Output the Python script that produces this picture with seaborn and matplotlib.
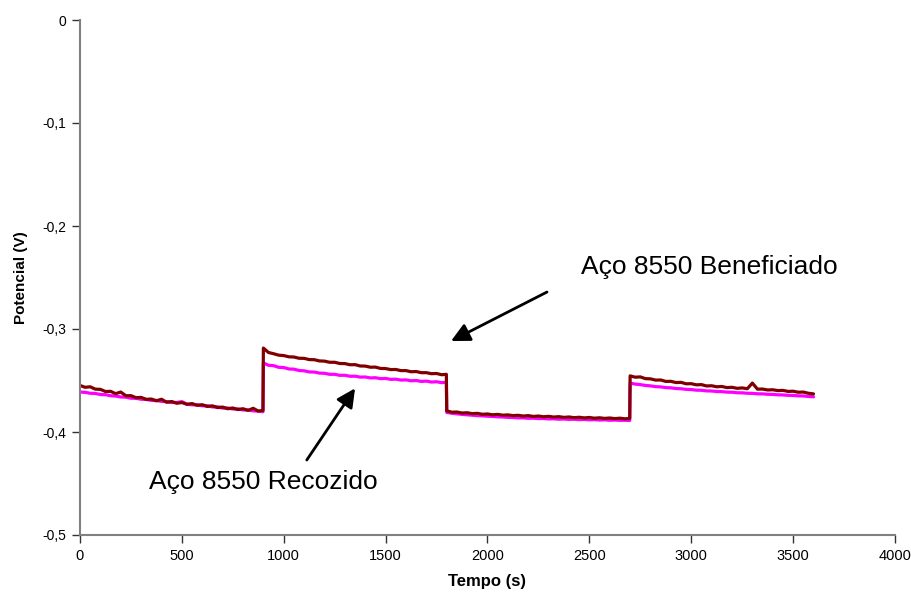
import numpy as np
import pandas as pd
import matplotlib
matplotlib.use("Agg")
import matplotlib.pyplot as plt
import seaborn as sns

# ---- data ----
t_seg1 = list(range(0, 900, 25)) + [898]
t_seg2 = list(range(900, 1800, 25)) + [1798]
t_seg3 = list(range(1800, 2700, 25)) + [2698]
t_seg4 = list(range(2700, 3601, 25))

ben_seg1 = [-0.3548, -0.3566, -0.3561, -0.3584, -0.3586, -0.3607, -0.3605, -0.3628, -0.3612,
            -0.3648, -0.3647, -0.3667, -0.3664, -0.3683, -0.3680, -0.3697, -0.3682, -0.3711,
            -0.3704, -0.3721, -0.3714, -0.3731, -0.3724, -0.3741, -0.3735, -0.3752, -0.3746,
            -0.3763, -0.3758, -0.3774, -0.3767, -0.3782, -0.3774, -0.3790, -0.3770, -0.3797,
            -0.3790]
ben_seg2 = [-0.3185, -0.3228, -0.3240, -0.3254, -0.3258, -0.3270, -0.3272, -0.3284, -0.3285,
            -0.3297, -0.3298, -0.3310, -0.3312, -0.3323, -0.3323, -0.3335, -0.3336, -0.3347,
            -0.3346, -0.3359, -0.3360, -0.3371, -0.3370, -0.3383, -0.3384, -0.3394, -0.3393,
            -0.3404, -0.3404, -0.3415, -0.3413, -0.3424, -0.3424, -0.3434, -0.3432, -0.3444,
            -0.3440]
ben_seg3 = [-0.3795, -0.3808, -0.3806, -0.3816, -0.3813, -0.3822, -0.3819, -0.3828, -0.3825,
            -0.3833, -0.3829, -0.3837, -0.3834, -0.3841, -0.3838, -0.3845, -0.3841, -0.3849,
            -0.3845, -0.3852, -0.3848, -0.3855, -0.3851, -0.3858, -0.3854, -0.3861, -0.3857,
            -0.3863, -0.3859, -0.3866, -0.3862, -0.3868, -0.3864, -0.3870, -0.3866, -0.3872,
            -0.3868]
ben_seg4 = [-0.3455, -0.3468, -0.3465, -0.3482, -0.3484, -0.3496, -0.3495, -0.3509, -0.3508,
            -0.3520, -0.3518, -0.3532, -0.3531, -0.3542, -0.3540, -0.3553, -0.3551, -0.3561,
            -0.3558, -0.3569, -0.3566, -0.3576, -0.3572, -0.3580, -0.3525, -0.3584, -0.3583,
            -0.3592, -0.3590, -0.3598, -0.3596, -0.3606, -0.3604, -0.3614, -0.3612, -0.3624,
            -0.3630]

rec_seg1 = [-0.3612, -0.3615, -0.3624, -0.3626, -0.3636, -0.3638, -0.3648, -0.3651, -0.3660,
            -0.3662, -0.3672, -0.3673, -0.3682, -0.3684, -0.3693, -0.3694, -0.3703, -0.3705,
            -0.3714, -0.3713, -0.3705, -0.3730, -0.3736, -0.3736, -0.3746, -0.3745, -0.3757,
            -0.3756, -0.3768, -0.3767, -0.3777, -0.3776, -0.3786, -0.3787, -0.3795, -0.3797,
            -0.3803]
rec_seg2 = [-0.3330, -0.3352, -0.3356, -0.3372, -0.3374, -0.3388, -0.3390, -0.3403, -0.3406,
            -0.3417, -0.3418, -0.3428, -0.3430, -0.3440, -0.3440, -0.3450, -0.3449, -0.3459,
            -0.3458, -0.3467, -0.3466, -0.3475, -0.3473, -0.3482, -0.3480, -0.3489, -0.3487,
            -0.3496, -0.3494, -0.3503, -0.3500, -0.3509, -0.3506, -0.3515, -0.3512, -0.3521,
            -0.3517]
rec_seg3 = [-0.3810, -0.3818, -0.3824, -0.3829, -0.3833, -0.3837, -0.3841, -0.3843, -0.3847,
            -0.3849, -0.3853, -0.3854, -0.3858, -0.3859, -0.3863, -0.3863, -0.3867, -0.3866,
            -0.3870, -0.3869, -0.3873, -0.3872, -0.3876, -0.3874, -0.3878, -0.3876, -0.3880,
            -0.3878, -0.3882, -0.3880, -0.3884, -0.3882, -0.3886, -0.3884, -0.3887, -0.3886,
            -0.3888]
rec_seg4 = [-0.3525, -0.3535, -0.3540, -0.3548, -0.3552, -0.3560, -0.3562, -0.3569, -0.3571,
            -0.3578, -0.3580, -0.3586, -0.3588, -0.3594, -0.3595, -0.3601, -0.3602, -0.3607,
            -0.3608, -0.3613, -0.3614, -0.3619, -0.3620, -0.3624, -0.3625, -0.3629, -0.3630,
            -0.3634, -0.3635, -0.3639, -0.3640, -0.3644, -0.3645, -0.3649, -0.3650, -0.3655,
            -0.3658]

x_ticks = [0, 500, 1000, 1500, 2000, 2500, 3000, 3500, 4000]
y_ticks = [0, -0.1, -0.2, -0.3, -0.4, -0.5]
y_tick_labels = ["0", "-0,1", "-0,2", "-0,3", "-0,4", "-0,5"]
label_ben = "Aço 8550 Beneficiado"
label_rec = "Aço 8550 Recozido"

time = t_seg1 + t_seg2 + t_seg3 + t_seg4
ben = ben_seg1 + ben_seg2 + ben_seg3 + ben_seg4
rec = rec_seg1 + rec_seg2 + rec_seg3 + rec_seg4

df = pd.DataFrame({"Tempo": time * 2,
                   "Potencial": rec + ben,
                   "Amostra": [label_rec] * len(time) + [label_ben] * len(time)})

sns.set_style("white")
plt.rcParams["font.family"] = ["Liberation Sans", "DejaVu Sans"]
plt.rcParams["text.color"] = "black"
plt.rcParams["axes.labelcolor"] = "black"
plt.rcParams["xtick.color"] = "black"
plt.rcParams["ytick.color"] = "black"

fig = plt.figure(figsize=(9.12, 5.92), dpi=100)
ax = fig.add_axes([80 / 912, 1 - 535 / 592, 815 / 912, 515 / 592])

sns.lineplot(data=df, x="Tempo", y="Potencial", hue="Amostra",
             palette={label_rec: "#FF00FF", label_ben: "#800000"},
             hue_order=[label_rec, label_ben],
             estimator=None, sort=False, linewidth=2.3, legend=False, ax=ax)

ax.set_xlim(0, 4000)
ax.set_ylim(-0.5, 0)
ax.set_xticks(x_ticks)
ax.set_xticklabels([str(v) for v in x_ticks])
ax.set_yticks(y_ticks)
ax.set_yticklabels(y_tick_labels)
ax.tick_params(axis="both", direction="out", length=6, width=1, color="#333333",
               pad=4, left=True, bottom=True)
ax.tick_params(axis="x", labelsize=10.5)
ax.tick_params(axis="y", labelsize=10)
for s in ["top", "right"]:
    ax.spines[s].set_visible(False)
for s in ["left", "bottom"]:
    ax.spines[s].set_color("#808080")
    ax.spines[s].set_linewidth(1.5)

ax.set_xlabel("Tempo (s)", fontsize=12, fontweight="bold", labelpad=8)
ax.set_ylabel("Potencial (V)", fontsize=11, fontweight="bold", labelpad=10)

# annotations
ax.text(2457, -0.2469, label_ben, fontsize=19, ha="left", va="baseline")
ax.annotate("", xy=(1821, -0.3117), xytext=(2292, -0.2641),
            arrowprops=dict(arrowstyle="-|>", mutation_scale=28, lw=2, color="black",
                            shrinkA=0, shrinkB=0))
ax.text(340, -0.4556, label_rec, fontsize=19, ha="left", va="baseline")
ax.annotate("", xy=(1350, -0.3576), xytext=(1113, -0.4272),
            arrowprops=dict(arrowstyle="-|>", mutation_scale=28, lw=2, color="black",
                            shrinkA=0, shrinkB=0))

fig.savefig("out.png", dpi=100)
